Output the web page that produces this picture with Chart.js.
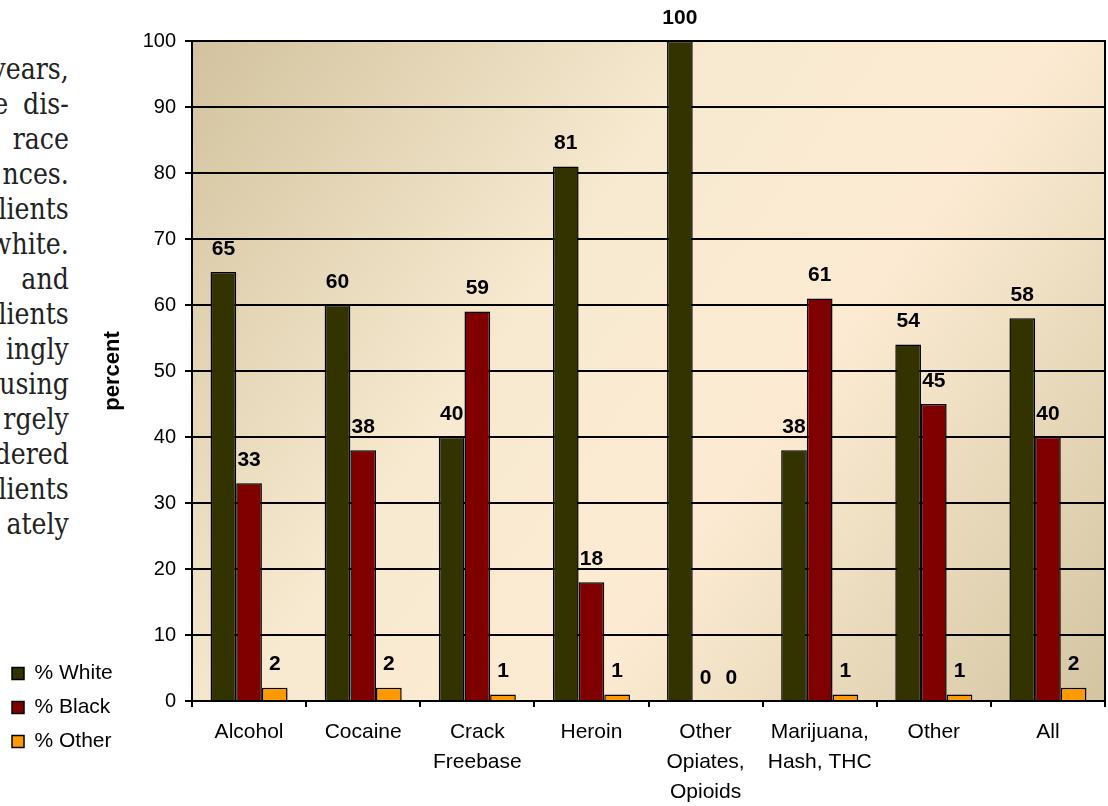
<!DOCTYPE html>
<html>
<head>
<meta charset="utf-8">
<script src="https://cdn.jsdelivr.net/npm/chart.js@4.4.1/dist/chart.umd.min.js"></script>
<style>
  html, body { margin: 0; padding: 0; background: #fff; }
  #wrap { position: relative; width: 1108px; height: 806px; overflow: hidden; }
  #chart { position: absolute; left: 0; top: 0; }
  #bodyText {
    position: absolute; right: 1039px; top: 52px;
    font-family: "DejaVu Serif", serif; font-size: 29px; line-height: 35px;
    color: #222; text-align: right; white-space: nowrap;
    transform: scaleX(0.87); transform-origin: right top;
  }
</style>
</head>
<body>
<div id="wrap">
  <div id="bodyText"></div>
  <canvas id="chart" width="1108" height="806"></canvas>
</div>
<script>
// chart data
const drugs = ["Alcohol", "Cocaine", ["Crack", "Freebase"], "Heroin",
  ["Other", "Opiates,", "Opioids"], ["Marijuana,", "Hash, THC"], "Other", "All"];
const whitePct = [65, 60, 40, 81, 100, 38, 54, 58];
const blackPct = [33, 38, 59, 18, 0, 61, 45, 40];
const otherPct = [2, 2, 1, 1, 0, 1, 1, 2];
const seriesNames = ["% White", "% Black", "% Other"];
const seriesColors = ["#333300", "#800000", "#FF9900"];

// the cut-off column of report text on the left
const textLines = ["years,", "e dis-", "race", "nces.", "lients", "white.", "and",
  "lients", "ingly", "using", "rgely", "dered", "lients", "ately"];

const textBox = document.getElementById("bodyText");
textBox.innerHTML = textLines
  .map((t, i) => i === 1 ? '<span style="word-spacing:8px">' + t + "</span>" : t)
  .join("<br>");

Chart.defaults.font.family = '"Liberation Sans", Arial, sans-serif';
Chart.defaults.color = "#000";

const plotBackground = {
  id: "plotBackground",
  beforeDraw(chart) {
    const { ctx, chartArea: a } = chart;
    const g = ctx.createLinearGradient(a.left, a.top, a.right, a.bottom);
    g.addColorStop(0, "#D2C29E");
    g.addColorStop(0.38, "#F7EAD0");
    g.addColorStop(0.62, "#FCEBD2");
    g.addColorStop(1, "#D3C5A2");
    ctx.save();
    ctx.fillStyle = g;
    ctx.fillRect(a.left, a.top, a.right - a.left, a.bottom - a.top);
    ctx.restore();
  },
  beforeDatasetsDraw(chart) {
    const { ctx, chartArea: a } = chart;
    ctx.save();
    ctx.strokeStyle = "#000";
    ctx.lineWidth = 2;
    ctx.beginPath();
    ctx.moveTo(a.right, a.top - 1);
    ctx.lineTo(a.right, a.bottom);
    ctx.stroke();
    ctx.restore();
  },
};

const barValues = {
  id: "barValues",
  afterDatasetsDraw(chart) {
    const ctx = chart.ctx;
    ctx.save();
    ctx.font = 'bold 21px "Liberation Sans", Arial, sans-serif';
    ctx.fillStyle = "#000";
    ctx.textAlign = "center";
    ctx.textBaseline = "alphabetic";
    chart.data.datasets.forEach((ds, i) => {
      chart.getDatasetMeta(i).data.forEach((bar, j) => {
        ctx.fillText(String(ds.data[j]), bar.x, bar.y - 17.5);
      });
    });
    ctx.restore();
  },
};

// put the legend at the lower left, under the text column
const legendSpot = {
  id: "legendSpot",
  afterLayout(chart) {
    const lg = chart.legend;
    if (!lg) return;
    const w = lg.width, h = lg.height;
    lg.left = -1;
    lg.top = 650;
    lg.right = lg.left + w;
    lg.bottom = lg.top + h;
  },
};

new Chart(document.getElementById("chart"), {
  type: "bar",
  data: {
    labels: drugs,
    datasets: [whitePct, blackPct, otherPct].map((vals, i) => ({
      label: seriesNames[i],
      data: vals,
      backgroundColor: seriesColors[i],
      borderColor: "#000",
      borderWidth: 1.5,
      categoryPercentage: 0.675,
      barPercentage: 1,
    })),
  },
  options: {
    responsive: false,
    animation: false,
    events: [],
    layout: { padding: { left: 95, right: 3, top: 41, bottom: 0 } },
    plugins: {
      tooltip: { enabled: false },
      legend: {
        position: "chartArea",
        align: "start",
        labels: { color: "#000", font: { size: 21 }, boxWidth: 12, boxHeight: 12, padding: 13 },
      },
    },
    scales: {
      x: {
        ticks: { color: "#000", font: { size: 21, lineHeight: 1.43 }, padding: 10, maxRotation: 0, autoSkip: false },
        grid: { offset: true, drawOnChartArea: false, color: "#000", lineWidth: 2, tickLength: 6 },
        border: { color: "#000", width: 2 },
        afterFit(s) { s.height = 105; },
      },
      y: {
        min: 0,
        max: 100,
        ticks: { stepSize: 10, color: "#000", font: { size: 20 }, padding: 9 },
        grid: { color: "#000", lineWidth: 2, tickLength: 7 },
        border: { color: "#000", width: 2 },
        title: {
          display: true, text: "percent", color: "#000",
          font: { size: 22, weight: "bold" }, padding: { top: 5, bottom: 0 },
        },
        afterFit(s) { s.width = 97; },
      },
    },
  },
  plugins: [plotBackground, barValues, legendSpot],
});
</script>
</body>
</html>
